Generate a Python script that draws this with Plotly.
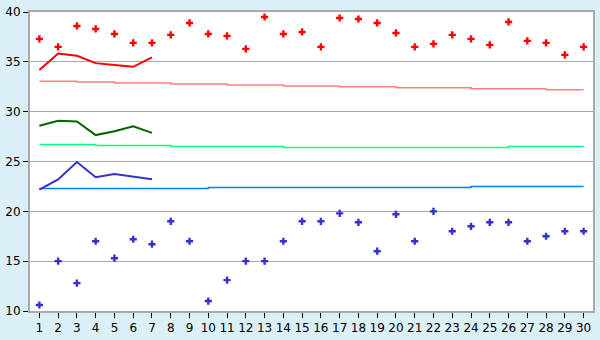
import plotly.graph_objects as go

days = list(range(1, 31))
max_pts = [37.3, 36.5, 38.6, 38.3, 37.8, 36.9, 36.9, 37.7, 38.9, 37.8,
           37.6, 36.3, 39.5, 37.8, 38.0, 36.5, 39.4, 39.3, 38.9, 37.9,
           36.5, 36.8, 37.7, 37.3, 36.7, 39.0, 37.1, 36.9, 35.7, 36.5]
min_pts = [10.6, 15.0, 12.8, 17.0, 15.3, 17.2, 16.7, 19.0, 17.0, 11.0,
           13.1, 15.0, 15.0, 17.0, 19.0, 19.0, 19.8, 18.9, 16.0, 19.7,
           17.0, 20.0, 18.0, 18.5, 18.9, 18.9, 17.0, 17.5, 18.0, 18.0]
line_days = [1, 2, 3, 4, 5, 6, 7]
max_line = [34.17, 35.83, 35.6, 34.87, 34.68, 34.5, 35.45]
mean_line = [28.58, 29.08, 29.02, 27.65, 28.03, 28.54, 27.87]
min_line = [22.18, 23.2, 24.95, 23.42, 23.74, 23.45, 23.23]
norm_max = [33.06, 33.06, 32.97, 32.97, 32.87, 32.87, 32.87, 32.78, 32.78, 32.78,
            32.68, 32.68, 32.68, 32.58, 32.58, 32.58, 32.49, 32.49, 32.49, 32.39,
            32.39, 32.39, 32.39, 32.3, 32.3, 32.3, 32.3, 32.2, 32.2, 32.2]
norm_mean = [26.7, 26.7, 26.7, 26.6, 26.6, 26.6, 26.6, 26.5, 26.5, 26.5,
             26.5, 26.5, 26.5, 26.4, 26.4, 26.4, 26.4, 26.4, 26.4, 26.4,
             26.4, 26.4, 26.4, 26.4, 26.4, 26.5, 26.5, 26.5, 26.5, 26.5]
norm_min = [22.3, 22.3, 22.3, 22.3, 22.3, 22.3, 22.3, 22.3, 22.3, 22.4,
            22.4, 22.4, 22.4, 22.4, 22.4, 22.4, 22.4, 22.4, 22.4, 22.4,
            22.4, 22.4, 22.4, 22.5, 22.5, 22.5, 22.5, 22.5, 22.5, 22.5]

fig = go.Figure()
fig.add_trace(go.Scatter(x=days, y=norm_max, mode="lines", line=dict(color="#FF8080", width=1.5, shape="hv")))
fig.add_trace(go.Scatter(x=days, y=norm_mean, mode="lines", line=dict(color="#00FF80", width=1.5, shape="hv")))
fig.add_trace(go.Scatter(x=days, y=norm_min, mode="lines", line=dict(color="#0080FF", width=1.5, shape="hv")))
fig.add_trace(go.Scatter(x=line_days, y=max_line, mode="lines", line=dict(color="#FF0000", width=2)))
fig.add_trace(go.Scatter(x=line_days, y=mean_line, mode="lines", line=dict(color="#006600", width=2)))
fig.add_trace(go.Scatter(x=line_days, y=min_line, mode="lines", line=dict(color="#3333CC", width=2)))
fig.add_trace(go.Scatter(x=days, y=max_pts, mode="markers",
                         marker=dict(symbol="cross", size=6, color="#FF0000", line=dict(width=0))))
fig.add_trace(go.Scatter(x=days, y=min_pts, mode="markers",
                         marker=dict(symbol="cross", size=6, color="#3333CC", line=dict(width=0))))

fig.update_layout(
    width=600, height=340,
    margin=dict(l=21, r=5, t=5, b=20),
    paper_bgcolor="#DAEFF6", plot_bgcolor="#FFFFFF",
    showlegend=False,
    font=dict(family="DejaVu Sans", size=12, color="#000000"),
)
fig.update_xaxes(range=[0.5, 30.5], tickmode="array", tickvals=days, ticktext=[str(d) for d in days],
                 showgrid=False, zeroline=False, ticks="outside", ticklen=5, tickcolor="#000000",
                 showline=True, linecolor="#AAAAAA", linewidth=2, mirror=True,
                 tickfont=dict(size=12))
fig.update_yaxes(range=[10, 40], dtick=5, showgrid=True, gridcolor="#AAAAAA", gridwidth=1,
                 zeroline=False, ticks="outside", ticklen=5, tickcolor="#000000",
                 showline=True, linecolor="#AAAAAA", linewidth=2, mirror=True,
                 tickfont=dict(size=12))
fig.write_html("out.html")
